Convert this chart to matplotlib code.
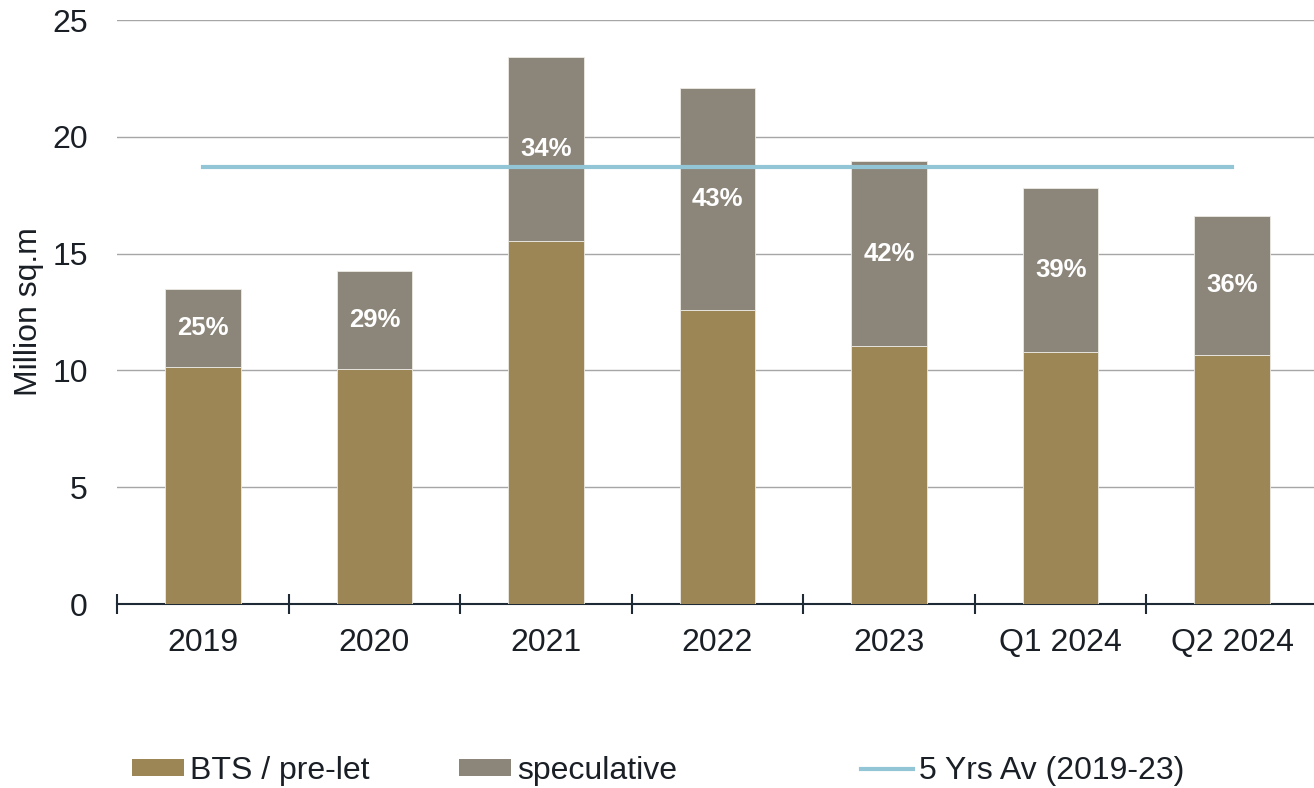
import numpy as np
import matplotlib.pyplot as plt
from matplotlib.patches import Patch
from matplotlib.lines import Line2D

plt.rcParams['font.family'] = ['Liberation Sans', 'DejaVu Sans']

periods = ['2019', '2020', '2021', '2022', '2023', 'Q1 2024', 'Q2 2024']
bts = [10.15, 10.06, 15.54, 12.59, 11.04, 10.79, 10.66]
total = [13.48, 14.25, 23.42, 22.09, 18.96, 17.81, 16.61]
avg_5y = 18.71

speculative = [t - b for t, b in zip(total, bts)]
share = [s / t * 100 for s, t in zip(speculative, total)]

c_bts = '#9C8655'
c_spec = '#8C857A'
c_avg = '#92C5D6'
txt = '#1A1F26'
fs = 23

fig = plt.figure(figsize=(13.14, 7.88), dpi=100)
ax = fig.add_axes([117 / 1314, 184 / 788, 1201 / 1314, 584 / 788])

x = np.arange(len(periods))
w = 0.44
ax.bar(x, bts, w, color=c_bts, edgecolor='#EDEAE4', linewidth=0.6, zorder=3)
ax.bar(x, speculative, w, bottom=bts, color=c_spec, edgecolor='#EDEAE4', linewidth=0.6, zorder=3)
ax.plot([x[0], x[-1]], [avg_5y, avg_5y], color=c_avg, linewidth=3, zorder=4)

for xi, b, s, p in zip(x, bts, speculative, share):
    ax.text(xi, b + s / 2, f'{p:.0f}%', ha='center', va='center', color='white',
            fontsize=18.5, fontweight='bold', zorder=5)

ax.set_xlim(-0.5, len(periods) - 0.5)
ax.set_ylim(0, 25)
ax.set_yticks([0, 5, 10, 15, 20, 25])
ax.grid(axis='y', color='#A6A6A6', linewidth=1, zorder=0)
ax.set_axisbelow(True)

for s in ['top', 'right', 'left']:
    ax.spines[s].set_visible(False)
ax.spines['bottom'].set_color('#1F2A37')
ax.spines['bottom'].set_linewidth(1.5)

# boundary ticks as major, labels on minor ticks at bar centres
ax.set_xticks(np.arange(len(periods) + 1) - 0.5)
ax.set_xticklabels([])
ax.set_xticks(x, minor=True)
ax.set_xticklabels(periods, minor=True, fontsize=fs, color=txt)
ax.tick_params(axis='x', which='major', direction='inout', length=14, width=1.5, color='#1F2A37')
ax.tick_params(axis='x', which='minor', length=0, pad=17)
ax.tick_params(axis='y', length=0, pad=21, labelsize=fs, labelcolor=txt)

ax.set_ylabel('Million sq.m', fontsize=fs, color=txt, labelpad=6)

entries = [
    (Patch(facecolor=c_bts), 'BTS / pre-let', 132),
    (Patch(facecolor=c_spec), 'speculative', 459),
    (Line2D([], [], color=c_avg, linewidth=3), '5 Yrs Av (2019-23)', 861),
]
for handle, label, px in entries:
    leg = fig.legend([handle], [label], loc='center left', bbox_to_anchor=(px / 1314, 17 / 788),
                     frameon=False, fontsize=fs, handlelength=1.63, handleheight=0.47,
                     handletextpad=0.19, borderaxespad=0, borderpad=0)
    for t in leg.get_texts():
        t.set_color(txt)

fig.savefig('out.png', dpi=100)
